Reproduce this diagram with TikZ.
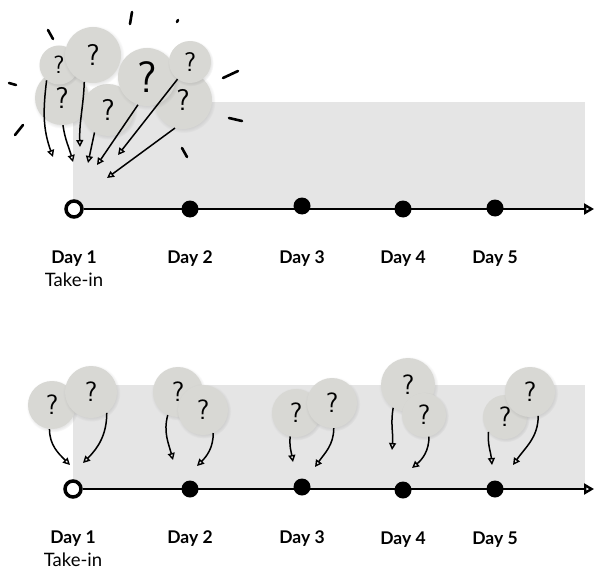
\documentclass[tikz,border=0pt]{standalone}
\usepackage{fontspec}
\setmainfont{Lato}
\usetikzlibrary{positioning, arrows.meta, shadows}

\definecolor{panelgray}{HTML}{E5E5E5}
\definecolor{bubblegray}{HTML}{D8D8D4}

\begin{document}
\begin{tikzpicture}[
    x=1pt, y=-1pt,
    panel/.style={fill=panelgray, draw=none},
    bubble/.style={circle, fill=bubblegray, inner sep=0pt, minimum size=#1,
        circular drop shadow={opacity=0.2, shadow xshift=0.6pt, shadow yshift=-1pt}},
    qm/.style={font=\sffamily\fontsize{#1}{#1}\selectfont},
    dot/.style={circle, fill=black, inner sep=0pt, minimum size=17pt},
    start/.style={circle, draw=black, line width=3.5pt, fill=white, inner sep=0pt, minimum size=16pt},
    daylbl/.style={inner sep=0pt, font=\bfseries\fontsize{17.5}{19}\selectfont},
    takelbl/.style={inner sep=0pt, font=\fontsize{18.5}{19}\selectfont},
    arr/.style={-{Triangle[open, length=7pt, width=7pt, line width=1.4pt]}, line width=1.5pt},
    axis/.style={-{Triangle[open, length=10pt, width=11pt]}, line width=2.4pt},
    tick/.style={line width=2.6pt, line cap=round},
]
\useasboundingbox (0,0) rectangle (596,572);

% top panel
\fill [panel] (73,102) rectangle (585,209);

\node [start] (s1) at (74,209) {};
\node [dot] (d2) at (190,209) {};
\node [dot] (d3) at (302,206) {};
\node [dot] (d4) at (403,209) {};
\node [dot] (d5) at (495,208) {};
\coordinate (e1) at (594,209);
\draw [axis] (s1) -- (e1);

\node [daylbl, below=32pt of s1] (l1) {Day 1};
\node [takelbl, below=6pt of l1] (take1) {Take-in};
\node [daylbl, below=33pt of d2] (l2) {Day 2};
\node [daylbl, below=36pt of d3] (l3) {Day 3};
\node [daylbl, below=33pt of d4] (l4) {Day 4};
\node [daylbl, below=34pt of d5] (l5) {Day 5};

% the crowd of questions
\node [bubble=54pt, qm=30] (q2) at (62,98) {?};
\node [bubble=52pt, qm=30] (q4) at (108,110) {?};
\node [bubble=58pt, qm=30] (q7) at (183,100) {?};
\node [bubble=39pt, qm=25] (q1) at (59,65) {?};
\node [bubble=56pt, qm=30] (q3) at (93,55) {?};
\node [bubble=58pt, qm=44] (q5) at (147,77) {?};
\node [bubble=42pt, qm=27] (q6) at (190,62) {?};

\coordinate (ta) at (53,157);
\coordinate (tb) at (73,162);
\coordinate (tc) at (80,147);
\coordinate (td) at (88,163);
\coordinate (te) at (97,165);
\coordinate (tf) at (118,155);
\coordinate (tg) at (107,178);

\draw [arr] (q1.231) to [out=263, in=110] (ta);
\draw [arr] (q2.272) to [out=278, in=105] (tb);
\draw [arr] (q3.252) to [out=268, in=92] (tc);
\draw [arr] (q4.239) -- (td);
\draw [arr] (q5.252) -- (te);
\draw [arr] (q6.234) -- (tf);
\draw [arr] (q7.254) -- (tg);

\draw [tick] (48,30) -- (53,39);
\draw [tick] (132,12) -- (130,24);
\draw [tick] (178,20) -- (177,22);
\draw [tick] (9,83) -- (16,85);
\draw [tick] (15,135) -- (23,125);
\draw [tick] (223,78) -- (238,71);
\draw [tick] (229,118) -- (242,121);
\draw [tick] (182,148) -- (187,157);

% bottom panel
\fill [panel] (73,385) rectangle (585,489);

\node [start] (s6) at (73,489) {};
\node [dot] (d7) at (190,489) {};
\node [dot] (d8) at (302,487) {};
\node [dot] (d9) at (403,490) {};
\node [dot] (d10) at (495,489) {};
\coordinate (e2) at (594,489);
\draw [axis] (s6) -- (e2);

\node [daylbl, below=32pt of s6] (l6) {Day 1};
\node [takelbl, below=6pt of l6] (take2) {Take-in};
\node [daylbl, below=33pt of d7] (l7) {Day 2};
\node [daylbl, below=35pt of d8] (l8) {Day 3};
\node [daylbl, below=33pt of d9] (l9) {Day 4};
\node [daylbl, below=34pt of d10] (l10) {Day 5};

% one or two questions a day
\node [bubble=48pt, qm=28] (p1l) at (52,405) {?};
\node [bubble=52pt, qm=28] (p1r) at (91,392) {?};
\node [bubble=50pt, qm=28] (p2l) at (178,392) {?};
\node [bubble=50pt, qm=28] (p2r) at (203,410) {?};
\node [bubble=48pt, qm=28] (p3l) at (296,413) {?};
\node [bubble=50pt, qm=28] (p3r) at (332,403) {?};
\node [bubble=54pt, qm=28] (p4l) at (408,385) {?};
\node [bubble=44pt, qm=28] (p4r) at (424,415) {?};
\node [bubble=44pt, qm=28] (p5l) at (505,417) {?};
\node [bubble=50pt, qm=28] (p5r) at (530,392) {?};

\coordinate (u1l) at (70,465);
\coordinate (u1r) at (83,463);
\coordinate (u2l) at (173,460);
\coordinate (u2r) at (197,466);
\coordinate (u3l) at (293,462);
\coordinate (u3r) at (315,467);
\coordinate (u4l) at (392,450);
\coordinate (u4r) at (412,468);
\coordinate (u5l) at (492,465);
\coordinate (u5r) at (513,465);

\draw [arr] (p1l.264) to [out=270, in=135] (u1l);
\draw [arr] (p1r.307) to [out=270, in=45] (u1r);
\draw [arr] (p2l.246) to [out=255, in=105] (u2l);
\draw [arr] (p2r.294) to [out=270, in=45] (u2r);
\draw [arr] (p3l.256) to [out=265, in=100] (u3l);
\draw [arr] (p3r.274) to [out=270, in=55] (u3r);
\draw [arr] (p4l.237) to [out=260, in=85] (u4l);
\draw [arr] (p4r.283) to [out=270, in=40] (u4r);
\draw [arr] (p5l.222) to [out=265, in=95] (u5l);
\draw [arr] (p5r.289) to [out=270, in=55] (u5r);

\end{tikzpicture}
\end{document}
